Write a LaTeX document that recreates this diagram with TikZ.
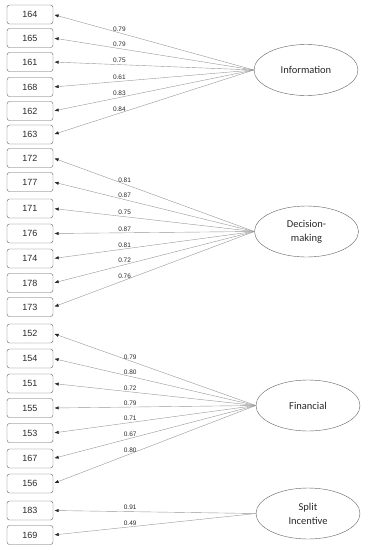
\documentclass[tikz,border=0pt]{standalone}
\usepackage{fontspec}
\setmainfont{Liberation Sans}
\newfontfamily\calibri{Carlito}
\usepackage{tikz}
\usetikzlibrary{arrows.meta, shapes}
\usepackage{xcolor}
\definecolor{linegray}{RGB}{150,150,150}
\definecolor{boxgray}{RGB}{95,95,95}
\definecolor{textdark}{RGB}{40,40,40}

\begin{document}
\begin{tikzpicture}[x=1pt, y=-1pt,
  item/.style={draw=boxgray, rounded corners=2.5pt, minimum width=46pt, minimum height=19pt, inner sep=0pt, text=textdark, font=\fontsize{9}{10}\selectfont},
  factor/.style={draw=boxgray, ellipse, minimum width=104pt, minimum height=51pt, inner sep=0pt, align=center, text=textdark, font=\calibri\fontsize{10.5}{14}\selectfont},
  load/.style={-{Triangle[length=4pt,width=3pt,color=black!85]}, linegray, shorten >=1.5pt},
  coef/.style={above, inner sep=1.5pt, text=textdark, font=\fontsize{6.5}{7}\selectfont}]
  \useasboundingbox (0,0) rectangle (374,550);

  % indicators
  \node[item] (i164) at (30, 14.5) {164};
  \node[item] (i165) at (30, 38) {165};
  \node[item] (i161) at (30, 62) {161};
  \node[item] (i168) at (30, 87) {168};
  \node[item] (i162) at (30, 111) {162};
  \node[item] (i163) at (30, 134.5) {163};
  \node[item] (i172) at (30, 158) {172};
  \node[item] (i177) at (30, 182) {177};
  \node[item] (i171) at (30, 208.5) {171};
  \node[item] (i176) at (30, 233.5) {176};
  \node[item] (i174) at (30, 258.5) {174};
  \node[item] (i178) at (30, 283) {178};
  \node[item] (i173) at (30, 307) {173};
  \node[item] (i152) at (30, 333.5) {152};
  \node[item] (i154) at (30, 358.5) {154};
  \node[item] (i151) at (30, 383.5) {151};
  \node[item] (i155) at (30, 408) {155};
  \node[item] (i153) at (30, 433) {153};
  \node[item] (i167) at (30, 458.5) {167};
  \node[item] (i156) at (30, 483.5) {156};
  \node[item] (i183) at (30, 510.5) {183};
  \node[item] (i169) at (30, 535) {169};

  % latent factors
  \node[factor] (info) at (306, 70) {Information};
  \node[factor] (decision) at (306.5, 231.5) {Decision-\\making};
  \node[factor] (finance) at (308, 405.5) {Financial};
  \node[factor] (split) at (308, 513.5) {Split\\Incentive};

  % loadings
  \draw[load] (info.west) -- (i164.east) node[coef, pos=0.67] {0.79};
  \draw[load] (info.west) -- (i165.east) node[coef, pos=0.67] {0.79};
  \draw[load] (info.west) -- (i161.east) node[coef, pos=0.67] {0.75};
  \draw[load] (info.west) -- (i168.east) node[coef, pos=0.67] {0.61};
  \draw[load] (info.west) -- (i162.east) node[coef, pos=0.67] {0.83};
  \draw[load] (info.west) -- (i163.east) node[coef, pos=0.67] {0.84};

  \draw[load] (decision.west) -- (i172.east) node[coef, pos=0.645] {0.81};
  \draw[load] (decision.west) -- (i177.east) node[coef, pos=0.645] {0.87};
  \draw[load] (decision.west) -- (i171.east) node[coef, pos=0.645] {0.75};
  \draw[load] (decision.west) -- (i176.east) node[coef, pos=0.645] {0.87};
  \draw[load] (decision.west) -- (i174.east) node[coef, pos=0.645] {0.81};
  \draw[load] (decision.west) -- (i178.east) node[coef, pos=0.645] {0.72};
  \draw[load] (decision.west) -- (i173.east) node[coef, pos=0.645] {0.76};

  \draw[load] (finance.west) -- (i152.east) node[coef, pos=0.62] {0.79};
  \draw[load] (finance.west) -- (i154.east) node[coef, pos=0.62] {0.80};
  \draw[load] (finance.west) -- (i151.east) node[coef, pos=0.62] {0.72};
  \draw[load] (finance.west) -- (i155.east) node[coef, pos=0.62] {0.79};
  \draw[load] (finance.west) -- (i153.east) node[coef, pos=0.62] {0.71};
  \draw[load] (finance.west) -- (i167.east) node[coef, pos=0.62] {0.67};
  \draw[load] (finance.west) -- (i156.east) node[coef, pos=0.62] {0.80};

  \draw[load] (split.west) -- (i183.east) node[coef, pos=0.62] {0.91};
  \draw[load] (split.west) -- (i169.east) node[coef, pos=0.62] {0.49};
\end{tikzpicture}
\end{document}
